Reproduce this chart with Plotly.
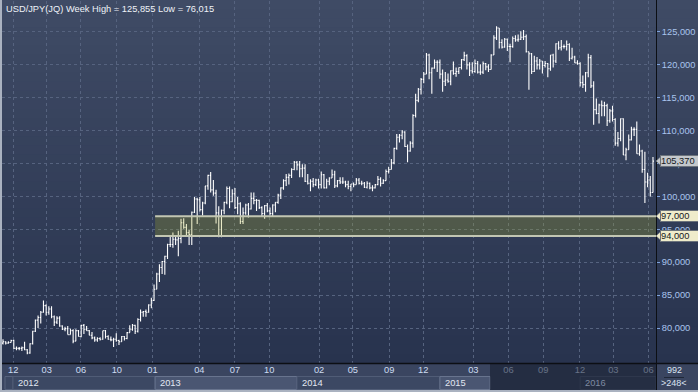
import plotly.graph_objects as go

# ---------------- data (weekly USD/JPY, Dec 2011 - Jul 2016) ----------------
open_ = [
    77.7, 77.9, 77.7, 77.8, 78.1,
    76.9, 76.9, 76.9, 77.0, 76.7, 76.2, 77.6, 79.5, 81.2, 81.6, 82.4, 83.4, 82.4, 82.9, 81.7, 80.9, 81.5, 80.3, 79.8, 79.9, 79.0, 79.6, 78.0, 79.6, 78.7, 80.4, 79.8, 79.6, 78.9, 78.5, 78.2, 78.4, 78.3, 79.6, 78.7, 78.3, 78.2, 78.3, 78.1, 77.9, 78.7, 78.4, 79.3, 79.8, 80.4, 79.5, 81.3, 82.4, 82.5, 82.4, 83.5, 84.2,
    85.9, 88.2, 89.2, 90.1, 90.9, 92.7, 92.7, 93.5, 93.4, 93.6, 96.0, 95.3, 94.5, 94.2, 97.6, 99.6, 99.5, 98.0, 99.0, 101.6, 103.2, 101.0, 100.5, 97.5, 94.0, 97.9, 99.1, 101.2, 99.2, 100.4, 98.3, 98.9, 96.2, 97.5, 98.7, 98.1, 99.7, 99.4, 99.4, 98.3, 97.4, 98.6, 97.8, 97.4, 98.7, 99.1, 100.2, 101.3, 102.4, 102.9, 103.2, 104.1,
    105.2, 104.8, 104.2, 104.3, 102.3, 102.0, 102.3, 101.8, 102.5, 101.8, 103.3, 101.3, 102.3, 102.8, 103.3, 101.6, 102.4, 102.2, 102.2, 101.8, 101.5, 101.9, 101.8, 102.5, 102.0, 102.0, 101.4, 102.0, 101.3, 101.3, 101.8, 102.6, 102.0, 102.4, 103.8, 104.1, 105.1, 107.3, 109.0, 109.3, 109.8, 107.6, 106.9, 108.1, 112.3, 114.6, 116.3, 117.8, 118.6, 121.5, 118.8, 119.5,
    120.4, 120.4, 118.6, 117.5, 117.7, 117.5, 119.1, 118.7, 119.0, 119.6, 120.8, 121.4, 120.0, 119.1, 119.0, 120.2, 118.9, 118.9, 120.2, 119.7, 119.3, 121.5, 124.1, 125.6, 123.4, 122.7, 123.9, 122.8, 122.8, 124.0, 123.8, 123.9, 124.2, 124.3, 122.0, 121.7, 119.0, 120.6, 120.0, 120.6, 119.9, 120.2, 119.4, 121.5, 120.6, 123.2, 122.6, 122.8, 122.8, 123.1, 121.0, 121.2,
    120.3, 120.2, 117.3, 117.0, 118.8, 121.1, 116.8, 113.2, 112.6, 113.9, 113.8, 113.8, 111.5, 113.0, 111.7, 108.1, 108.8, 111.8, 106.3, 107.1, 108.6, 110.2, 110.2, 106.5, 106.9, 104.1, 102.2, 102.5, 100.6,
]
high = [
    78.3, 78.0, 78.0, 78.2, 78.2,
    77.2, 77.1, 77.2, 77.9, 76.8, 77.7, 79.6, 81.3, 81.9, 82.6, 84.2, 83.6, 83.3, 83.3, 81.9, 81.8, 81.8, 80.4, 80.2, 80.3, 79.9, 79.8, 79.8, 79.7, 80.5, 80.6, 80.3, 79.7, 79.4, 78.7, 78.6, 78.6, 79.6, 79.7, 78.9, 78.7, 78.5, 79.2, 78.2, 78.8, 78.8, 79.4, 80.4, 80.6, 80.5, 81.5, 82.8, 82.6, 82.8, 83.6, 84.6, 86.6,
    88.4, 89.7, 90.2, 91.0, 92.8, 94.1, 94.5, 94.0, 94.8, 96.6, 96.7, 95.8, 94.9, 97.7, 99.9, 99.8, 99.9, 99.2, 101.6, 103.3, 103.7, 102.5, 101.0, 98.5, 98.0, 99.2, 101.5, 101.5, 101.1, 101.3, 99.9, 99.1, 98.3, 98.9, 99.0, 100.6, 100.6, 99.6, 99.5, 98.5, 98.7, 99.0, 98.3, 98.8, 99.1, 100.4, 101.4, 102.6, 103.4, 103.5, 104.3, 105.4,
    105.4, 105.4, 104.9, 104.9, 103.4, 102.6, 102.8, 102.7, 102.7, 103.8, 103.4, 102.7, 102.9, 104.1, 103.9, 102.5, 102.9, 102.9, 102.4, 102.4, 101.9, 102.1, 102.8, 102.8, 102.4, 102.2, 102.3, 102.1, 101.7, 101.9, 103.1, 102.9, 102.6, 104.1, 104.5, 105.7, 107.4, 109.5, 109.5, 110.1, 109.9, 107.9, 108.4, 112.5, 115.6, 116.5, 118.0, 118.9, 121.8, 121.7, 119.6, 120.8,
    120.7, 120.8, 119.3, 118.9, 118.7, 119.2, 120.5, 119.6, 119.6, 120.9, 122.0, 121.6, 120.4, 120.4, 120.8, 120.6, 120.1, 120.5, 120.3, 120.1, 121.6, 124.5, 125.86, 125.6, 123.9, 124.1, 124.0, 123.2, 124.3, 124.5, 124.6, 125.1, 125.3, 124.6, 122.0, 121.8, 121.4, 121.2, 120.9, 120.6, 120.6, 120.3, 121.5, 121.7, 123.3, 123.6, 123.8, 123.1, 123.7, 123.3, 122.6, 121.4,
    120.7, 120.4, 118.4, 118.9, 121.7, 121.5, 117.5, 114.9, 114.1, 114.6, 114.4, 114.1, 113.3, 113.8, 111.9, 109.8, 111.9, 111.9, 107.4, 109.4, 110.6, 110.5, 111.4, 107.9, 107.1, 106.8, 103.6, 103.1, 106.0,
]
low = [
    77.5, 77.5, 77.6, 77.8, 76.8,
    76.6, 76.6, 76.5, 76.6, 76.02, 76.1, 77.5, 79.4, 80.0, 80.7, 82.3, 81.9, 82.0, 81.5, 80.3, 80.6, 80.2, 79.7, 79.5, 79.0, 79.0, 77.7, 78.0, 78.7, 78.6, 79.1, 79.6, 78.9, 78.3, 77.9, 77.9, 78.1, 78.2, 78.4, 78.2, 78.0, 77.1, 77.9, 77.4, 77.9, 78.1, 78.3, 79.3, 79.6, 79.1, 79.3, 81.0, 81.7, 81.7, 82.3, 83.0, 84.1,
    85.9, 87.0, 88.2, 88.1, 90.5, 92.3, 92.2, 92.6, 90.9, 92.9, 95.1, 94.1, 92.6, 92.6, 97.5, 95.8, 97.7, 97.1, 98.8, 101.0, 100.6, 100.1, 95.9, 93.8, 93.8, 97.3, 98.8, 98.2, 99.1, 98.1, 97.3, 95.8, 95.8, 97.2, 96.8, 98.0, 98.8, 97.8, 98.1, 96.9, 96.6, 97.6, 97.1, 96.9, 97.6, 98.9, 99.6, 101.0, 101.6, 101.8, 102.8, 104.0,
    104.0, 102.9, 102.9, 102.2, 101.8, 100.8, 101.4, 101.6, 101.2, 101.2, 101.2, 101.2, 101.7, 102.8, 101.3, 101.4, 101.9, 101.9, 101.4, 101.1, 100.8, 101.4, 101.8, 101.8, 101.7, 101.3, 101.2, 101.1, 100.8, 101.2, 101.7, 101.5, 101.9, 102.4, 103.5, 104.1, 104.9, 107.1, 108.2, 108.7, 107.5, 105.2, 106.8, 107.4, 112.0, 114.3, 115.5, 117.2, 118.6, 117.8, 115.6, 119.4,
    118.9, 117.9, 115.9, 116.8, 117.3, 116.9, 118.5, 118.2, 118.6, 119.3, 120.6, 119.3, 118.3, 118.7, 118.8, 118.7, 118.5, 118.6, 119.2, 118.9, 119.3, 121.5, 123.8, 122.5, 122.5, 122.6, 122.1, 120.4, 122.6, 123.5, 123.5, 123.8, 123.8, 121.9, 116.2, 118.6, 118.9, 119.3, 119.3, 118.7, 119.6, 118.1, 119.1, 119.6, 120.3, 122.3, 122.2, 122.5, 122.2, 120.6, 120.8, 120.3,
    120.0, 116.7, 116.5, 115.9, 118.1, 116.5, 110.9, 112.5, 111.1, 112.2, 112.2, 110.7, 111.2, 111.4, 107.7, 107.6, 108.4, 106.3, 105.5, 107.1, 108.5, 109.2, 106.5, 106.2, 103.6, 99.0, 101.4, 100.0, 100.6,
]
close = [
    77.9, 77.7, 77.8, 78.1, 76.9,
    76.9, 76.9, 77.0, 76.7, 76.2, 77.6, 79.5, 81.2, 81.6, 82.4, 83.4, 82.4, 82.9, 81.7, 80.9, 81.5, 80.3, 79.8, 79.9, 79.0, 79.6, 78.0, 79.6, 78.7, 80.4, 79.8, 79.6, 78.9, 78.5, 78.2, 78.4, 78.3, 79.6, 78.7, 78.3, 78.2, 78.3, 78.1, 77.9, 78.7, 78.4, 79.3, 79.8, 80.4, 79.5, 81.3, 82.4, 82.5, 82.4, 83.5, 84.2, 85.9,
    88.2, 89.2, 90.1, 90.9, 92.7, 92.7, 93.5, 93.4, 93.6, 96.0, 95.3, 94.5, 94.2, 97.6, 99.6, 99.5, 98.0, 99.0, 101.6, 103.2, 101.0, 100.5, 97.5, 94.0, 97.9, 99.1, 101.2, 99.2, 100.4, 98.3, 98.9, 96.2, 97.5, 98.7, 98.1, 99.7, 99.4, 99.4, 98.3, 97.4, 98.6, 97.8, 97.4, 98.7, 99.1, 100.2, 101.3, 102.4, 102.9, 103.2, 104.1, 105.2,
    104.8, 104.2, 104.3, 102.3, 102.0, 102.3, 101.8, 102.5, 101.8, 103.3, 101.3, 102.3, 102.8, 103.3, 101.6, 102.4, 102.2, 102.2, 101.8, 101.5, 101.9, 101.8, 102.5, 102.0, 102.0, 101.4, 102.0, 101.3, 101.3, 101.8, 102.6, 102.0, 102.4, 103.8, 104.1, 105.1, 107.3, 109.0, 109.3, 109.8, 107.6, 106.9, 108.1, 112.3, 114.6, 116.3, 117.8, 118.6, 121.5, 118.8, 119.5, 120.4,
    120.4, 118.6, 117.5, 117.7, 117.5, 119.1, 118.7, 119.0, 119.6, 120.8, 121.4, 120.0, 119.1, 119.0, 120.2, 118.9, 118.9, 120.2, 119.7, 119.3, 121.5, 124.1, 125.6, 123.4, 122.7, 123.9, 122.8, 122.8, 124.0, 123.8, 123.9, 124.2, 124.3, 122.0, 121.7, 119.0, 120.6, 120.0, 120.6, 119.9, 120.2, 119.4, 121.5, 120.6, 123.2, 122.6, 122.8, 122.8, 123.1, 121.0, 121.2, 120.3,
    120.2, 117.3, 117.0, 118.8, 121.1, 116.8, 113.2, 112.6, 113.9, 113.8, 113.8, 111.5, 113.0, 111.7, 108.1, 108.8, 111.8, 106.3, 107.1, 108.6, 110.2, 110.2, 106.5, 106.9, 104.1, 102.2, 102.5, 100.6, 105.37,
]

month_pos = [3.8, 16.2, 28.9, 42.2, 55.4, 72.8, 86.0, 98.7, 117.2, 129.7, 143.2, 155.8, 174.4, 187.4, 200.3, 213.9, 226.3, 239.3]
month_labels = ["12", "03", "06", "10", "01", "04", "07", "10", "02", "05", "09", "12", "03", "06", "09", "12", "03", "06"]
year_labels = ["2012", "2013", "2014", "2015", "2016"]
year_start = [3.7, 56.4, 109.0, 162.0, 214.0]
year_end = [56.4, 109.0, 162.0, 180.6, 242.1]
y_ticks = [80, 85, 90, 95, 100, 105, 110, 115, 120, 125]
band_low, band_high = 94.0, 97.0
band_start = 56.4
last_price = 105.37
title_text = "USD/JPY(JQ) Week High = 125,855 Low = 76,015"
count_text, visible_text = "992", ">248<"

n = min(len(open_), len(high), len(low), len(close))
weeks = list(range(n))
hi = [max(h, o, c) for h, o, c in zip(high[:n], open_[:n], close[:n])]
lo = [min(l, o, c) for l, o, c in zip(low[:n], open_[:n], close[:n])]

# ---------------- geometry ----------------
W, H = 698, 392
ML, MR, MT, MB = 2, 42, 1, 29
PW, PH = W - ML - MR, H - MT - MB
XR = [-0.371, 242.12]
YR = [74.68, 129.71]


def fx(px):
    return (px - ML) / PW


def fy(py):
    return (H - MB - py) / PH


FONT = "Liberation Sans, Arial, sans-serif"

fig = go.Figure()
fig.add_trace(go.Ohlc(
    x=weeks, open=open_[:n], high=hi, low=lo, close=close[:n],
    increasing=dict(line=dict(color="#ffffff", width=1.1)),
    decreasing=dict(line=dict(color="#ffffff", width=1.1)),
    tickwidth=0.38, showlegend=False, hoverinfo="skip",
))

shapes = []
# gradient background over plot + right column
top, bot = (63, 75, 101), (40, 51, 78)
NS = 40
for k in range(NS):
    t = k / (NS - 1)
    c = tuple(round(top[j] + (bot[j] - top[j]) * t) for j in range(3))
    py0 = (H - MB) * k / NS
    py1 = (H - MB) * (k + 1) / NS + 0.6
    shapes.append(dict(type="rect", xref="paper", yref="paper", x0=fx(0), x1=fx(W),
                       y0=fy(py1), y1=fy(py0), fillcolor="rgb(%d,%d,%d)" % c,
                       line=dict(width=0), layer="below"))
# bottom strip
shapes.append(dict(type="rect", xref="paper", yref="paper", x0=fx(0), x1=fx(W),
                   y0=fy(H), y1=fy(H - MB), fillcolor="#3a4560", line=dict(width=0), layer="below"))
# small box before 2012
shapes.append(dict(type="rect", xref="paper", yref="paper", x0=fx(5), x1=fx(13),
                   y0=fy(389.5), y1=fy(376.5), fillcolor="#3c4863",
                   line=dict(color="#56627c", width=1), layer="below"))
# year boxes
for i, (a, b) in enumerate(zip(year_start, year_end)):
    light = i in (1, 3)
    shapes.append(dict(type="rect", xref="x", yref="paper", x0=a, x1=b,
                       y0=fy(389.5), y1=fy(376.5),
                       fillcolor="#4a5672" if light else "#3c4863",
                       line=dict(color="#68748e" if light else "#505c76", width=1),
                       layer="below"))
# band
shapes.append(dict(type="rect", xref="x", yref="y", x0=band_start, x1=XR[1],
                   y0=band_low, y1=band_high, fillcolor="rgba(170,175,40,0.26)",
                   line=dict(width=0), layer="above"))
for yv in (band_low, band_high):
    shapes.append(dict(type="line", xref="x", yref="y", x0=band_start, x1=XR[1],
                       y0=yv, y1=yv, line=dict(color="#c2c6b2", width=2), layer="above"))
# dark overlay on the latest part of the time strip
shapes.append(dict(type="rect", xref="paper", yref="paper", x0=fx(490), x1=fx(656),
                   y0=fy(390), y1=fy(363.5), fillcolor="rgba(18,25,42,0.55)",
                   line=dict(width=0), layer="above"))
# axis lines
shapes.append(dict(type="line", xref="paper", yref="paper", x0=fx(656.5), x1=fx(656.5),
                   y0=fy(390), y1=fy(0), line=dict(color="#0c0f14", width=1), layer="above"))
shapes.append(dict(type="line", xref="paper", yref="paper", x0=fx(2), x1=fx(W),
                   y0=fy(363.5), y1=fy(363.5), line=dict(color="#0c0f14", width=1.5), layer="above"))
# separator in bottom right box
shapes.append(dict(type="line", xref="paper", yref="paper", x0=fx(664), x1=fx(684),
                   y0=fy(377.5), y1=fy(377.5), line=dict(color="#202838", width=1), layer="above"))
# outer border left & bottom
shapes.append(dict(type="line", xref="paper", yref="paper", x0=fx(1), x1=fx(1),
                   y0=fy(H), y1=fy(0), line=dict(color="#aab2c0", width=2), layer="above"))
shapes.append(dict(type="line", xref="paper", yref="paper", x0=fx(0), x1=fx(W),
                   y0=fy(391), y1=fy(391), line=dict(color="#aab2c0", width=2), layer="above"))

# price label pointers
dy = 4.2 / (PH / (YR[1] - YR[0]))
for yv, col in ((last_price, "#c4c8cc"), (band_high, "#efeccb"), (band_low, "#efeccb")):
    path = "M %f,%f L %f,%f L %f,%f Z" % (fx(656), yv, fx(660.5), yv + dy, fx(660.5), yv - dy)
    shapes.append(dict(type="path", xref="paper", yref="y", path=path, fillcolor=col,
                       line=dict(color="#6c737c", width=0.6), layer="above"))

annotations = [
    dict(text=title_text, xref="paper", yref="paper", x=fx(4), y=fy(2), xanchor="left",
         yanchor="top", showarrow=False, font=dict(family=FONT, size=9.3, color="#eef2f8")),
    dict(text=count_text, xref="paper", yref="paper", x=fx(674), y=fy(370), xanchor="center",
         yanchor="middle", showarrow=False, font=dict(family=FONT, size=9, color="#dce4f2")),
    dict(text=visible_text, xref="paper", yref="paper", x=fx(674), y=fy(383), xanchor="center",
         yanchor="middle", showarrow=False, font=dict(family=FONT, size=9, color="#dce4f2")),
]
for i, (lab, a) in enumerate(zip(year_labels, year_start)):
    annotations.append(dict(text=lab, xref="x", yref="paper", x=a + 1.2, y=fy(383),
                            xanchor="left", yanchor="middle", showarrow=False,
                            font=dict(family=FONT, size=9.3,
                                      color="#7f8ba2" if i == 4 else "#e2e8f2")))
for yv, col, txt in ((last_price, "#c4c8cc", "105,370"), (band_high, "#efeccb", "97,000"),
                     (band_low, "#efeccb", "94,000")):
    annotations.append(dict(text=txt, xref="paper", yref="y", x=fx(660), y=yv,
                            xanchor="left", yanchor="middle", showarrow=False,
                            bgcolor=col, bordercolor="#6c737c", borderwidth=1, borderpad=0,
                            width=37, align="left",
                            font=dict(family=FONT, size=9.3, color="#15181c")))

fig.update_layout(
    width=W, height=H, margin=dict(l=ML, r=MR, t=MT, b=MB, pad=0),
    paper_bgcolor="#3a4560", plot_bgcolor="rgba(0,0,0,0)",
    separators=",.", showlegend=False, hovermode=False,
    shapes=shapes, annotations=annotations,
    xaxis=dict(range=XR, tickmode="array", tickvals=month_pos, ticktext=month_labels,
               showgrid=True, gridcolor="#56637f", griddash="3px,3px", gridwidth=1,
               zeroline=False, showline=False, ticks="", rangeslider=dict(visible=False),
               tickfont=dict(family=FONT, size=9.3, color="#cddcf2"), fixedrange=True),
    yaxis=dict(range=YR, side="right", tickmode="array", tickvals=y_ticks,
               tickformat=".3f", showgrid=True, gridcolor="#56637f", griddash="3px,3px",
               gridwidth=1, zeroline=False, showline=False, ticks="outside", ticklen=3,
               tickcolor="#7ea2dc", tickfont=dict(family=FONT, size=9.3, color="#a9c4ee"),
               fixedrange=True),
)

fig.write_html(
    "out.html",
    config={"displayModeBar": False, "staticPlot": True},
    post_script="document.body.style.margin='0';document.body.style.padding='0';"
                "document.body.style.overflow='hidden';",
)
